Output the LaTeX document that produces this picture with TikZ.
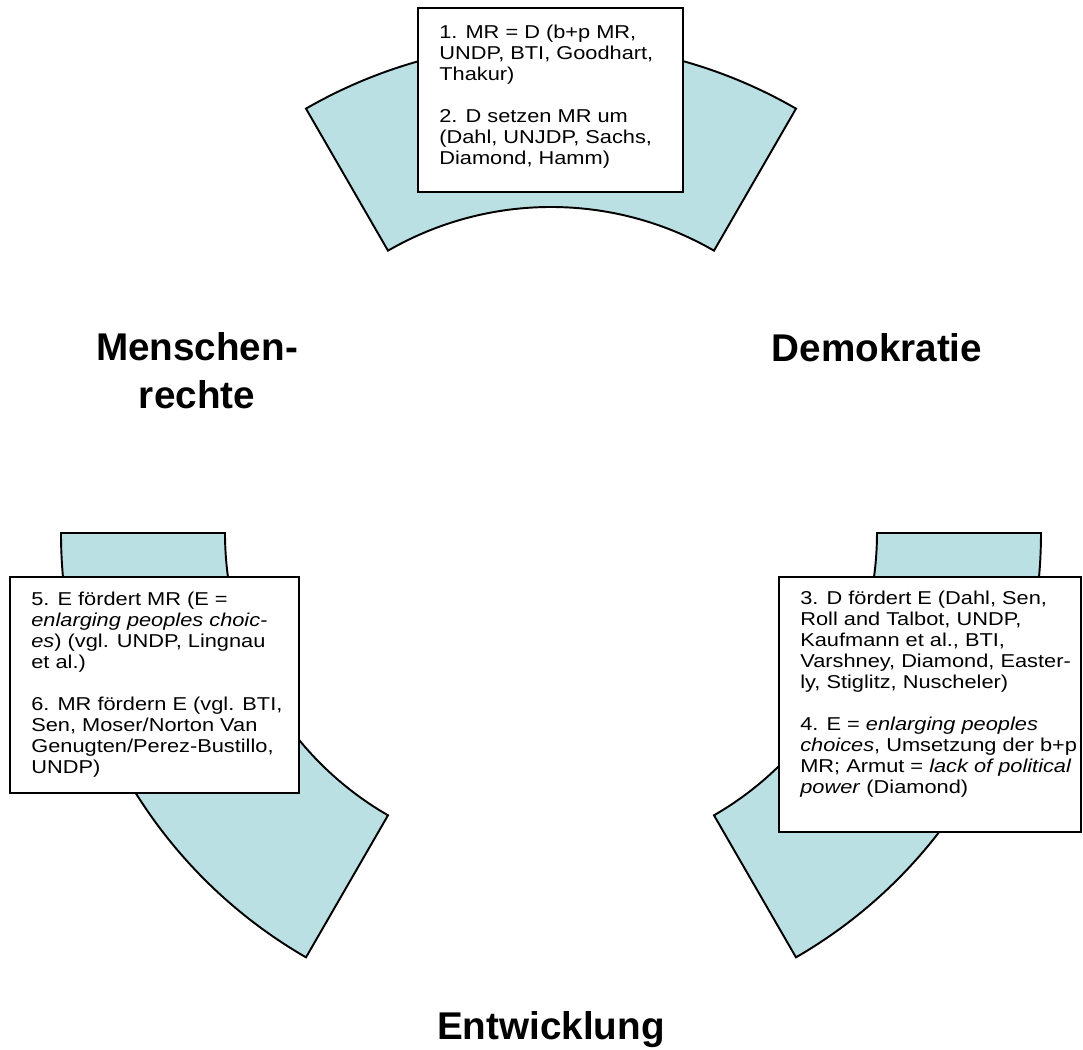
\documentclass[tikz,border=0pt]{standalone}
\usepackage{fontspec}
\setmainfont{Liberation Sans}
\newfontfamily\boxfont{Liberation Sans}[FakeStretch=1.17]
\usepackage{tikz}
\definecolor{ringblue}{RGB}{187,224,227}
\tikzset{
		sector/.style={draw=black,line width=1.1pt,fill=ringblue,line join=miter},
		notebox/.style={draw=black,line width=1.1pt,fill=white},
		notetext/.style={anchor=north west,inner sep=0pt,align=left,
			font=\boxfont\fontsize{10.6}{11.95}\selectfont},
		title/.style={inner sep=0pt,align=center,
			font=\bfseries\fontsize{22}{27.3}\selectfont},
		}

\begin{document}
\begin{tikzpicture}[x=0.02cm,y=0.02cm]
					\useasboundingbox (-551,-517) rectangle (532,533);
					%SECTORS of the ring
					\foreach \a in {60,180,300}
						\draw[sector] (\a:490) arc[start angle=\a, end angle=\a+60, radius=490]
						-- (\a+60:326) arc[start angle=\a+60, end angle=\a, radius=326] -- cycle;
					%BOXES
					\draw[notebox] (-133,525) rectangle (132,341);
					\draw[notebox] (228,-44) rectangle (530,-299);
					\draw[notebox] (-541,-44) rectangle (-252,-260);
					%TEXTS in the boxes
					\node[notetext](md) at (-112,508) {1. MR = D (b+p MR,\\
						UNDP, BTI, Goodhart,\\
						Thakur)\\[0.42cm]
						2. D setzen MR um\\
						(Dahl, UNJDP, Sachs,\\
						Diamond, Hamm)};
					\node[notetext](de) at (249,-58) {3. D fördert E (Dahl, Sen,\\
						Roll and Talbot, UNDP,\\
						Kaufmann et al., BTI,\\
						Varshney, Diamond, Easter-\\
						ly, Stiglitz, Nuscheler)\\[0.42cm]
						4. E = \textit{enlarging peoples}\\
						\textit{choices}, Umsetzung der b+p\\
						MR; Armut = \textit{lack of political}\\
						\textit{power} (Diamond)};
					\node[notetext](em) at (-520,-59) {5. E fördert MR (E =\\
						\textit{enlarging peoples choic-}\\
						\textit{es}) (vgl. UNDP, Lingnau\\
						et al.)\\[0.42cm]
						6. MR fördern E (vgl. BTI,\\
						Sen, Moser/Norton Van\\
						Genugten/Perez-Bustillo,\\
						UNDP)};
					%TITLES
					\node[title](mr) at (-354,162) {Menschen-\\rechte};
					\node[title,anchor=base](dem) at (326,171) {Demokratie};
					\node[title,anchor=base](ent) at (0,-507) {Entwicklung};
				\end{tikzpicture}
\end{document}
